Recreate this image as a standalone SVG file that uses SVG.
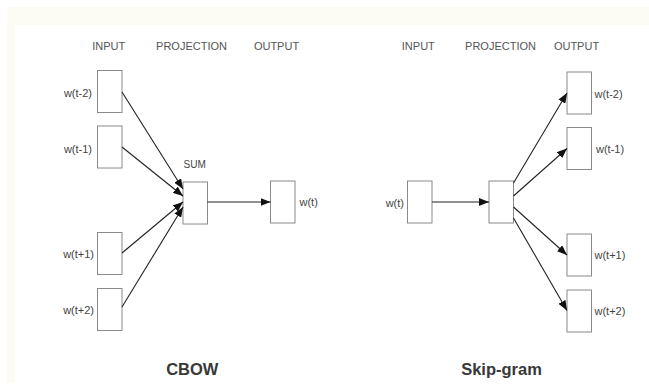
<svg xmlns="http://www.w3.org/2000/svg" width="649" height="390" viewBox="0 0 649 390">
  <style>
    .box { fill: #ffffff; stroke: #8a8a8a; stroke-width: 1; }
    .hdr { font-family: "Liberation Sans", Arial, sans-serif; font-size: 11px; fill: #555555; text-anchor: middle; }
    .lbl { font-family: "Liberation Sans", Arial, sans-serif; font-size: 11px; fill: #444444; }
    .ttl { font-family: "Liberation Sans", Arial, sans-serif; font-size: 16.5px; font-weight: bold; fill: #383838; text-anchor: middle; }
    .edge { stroke: #222222; stroke-width: 1.1; fill: none; marker-end: url(#arrow); }
  </style>
  <defs>
    <marker id="arrow" viewBox="0 0 10 8" refX="10" refY="4" markerWidth="10" markerHeight="8" markerUnits="userSpaceOnUse" orient="auto">
      <path d="M0,0 L10,4 L0,8 Z" fill="#111111"/>
    </marker>
  </defs>

  <rect x="0" y="0" width="649" height="390" fill="#ffffff"/>
  <rect x="7" y="7" width="642" height="376" fill="#fcfbf4"/>
  <rect x="15" y="25" width="634" height="365" fill="#ffffff"/>

  <!-- headers -->
  <g id="headers">
    <text class="hdr" x="108.7" y="50">INPUT</text>
    <text class="hdr" x="191.5" y="50">PROJECTION</text>
    <text class="hdr" x="276.5" y="50">OUTPUT</text>
    <text class="hdr" x="418.3" y="50">INPUT</text>
    <text class="hdr" x="500.5" y="50">PROJECTION</text>
    <text class="hdr" x="576.5" y="50">OUTPUT</text>
  </g>

  <!-- CBOW nodes -->
  <g id="cbow-in-t-2">
    <rect class="box" x="97.5" y="70.5" width="24.5" height="42"/>
    <text class="lbl" x="92" y="97" text-anchor="end">w(t-2)</text>
  </g>
  <g id="cbow-in-t-1">
    <rect class="box" x="97.5" y="126" width="24.5" height="42"/>
    <text class="lbl" x="92" y="152.5" text-anchor="end">w(t-1)</text>
  </g>
  <g id="cbow-in-t+1">
    <rect class="box" x="97.5" y="232.5" width="24.5" height="42"/>
    <text class="lbl" x="94" y="257.5" text-anchor="end">w(t+1)</text>
  </g>
  <g id="cbow-in-t+2">
    <rect class="box" x="97.5" y="288.5" width="24.5" height="42"/>
    <text class="lbl" x="94" y="313.5" text-anchor="end">w(t+2)</text>
  </g>
  <g id="cbow-sum">
    <rect class="box" x="183" y="182" width="24.5" height="42"/>
    <text class="lbl" x="194.7" y="168.3" text-anchor="middle" style="font-size:10px">SUM</text>
  </g>
  <g id="cbow-out">
    <rect class="box" x="270.5" y="181" width="24.5" height="42"/>
    <text class="lbl" x="299.5" y="205.5">w(t)</text>
  </g>

  <!-- Skip-gram nodes -->
  <g id="sg-in">
    <rect class="box" x="407.5" y="181" width="24.5" height="42"/>
    <text class="lbl" x="404" y="207" text-anchor="end">w(t)</text>
  </g>
  <g id="sg-proj">
    <rect class="box" x="489" y="181" width="24.5" height="42"/>
  </g>
  <g id="sg-out-t-2">
    <rect class="box" x="567" y="72" width="24.5" height="42"/>
    <text class="lbl" x="594.5" y="98">w(t-2)</text>
  </g>
  <g id="sg-out-t-1">
    <rect class="box" x="567" y="127.5" width="24.5" height="42"/>
    <text class="lbl" x="596" y="153">w(t-1)</text>
  </g>
  <g id="sg-out-t+1">
    <rect class="box" x="567" y="234" width="24.5" height="42"/>
    <text class="lbl" x="594.5" y="258.5">w(t+1)</text>
  </g>
  <g id="sg-out-t+2">
    <rect class="box" x="567" y="290" width="24.5" height="42"/>
    <text class="lbl" x="594.5" y="314.5">w(t+2)</text>
  </g>

  <!-- connectors -->
  <g id="connectors">
    <line class="edge" x1="122" y1="92" x2="183" y2="189"/>
    <line class="edge" x1="122" y1="147" x2="183" y2="196"/>
    <line class="edge" x1="122" y1="253" x2="183" y2="202"/>
    <line class="edge" x1="122" y1="307" x2="183" y2="207"/>
    <line class="edge" x1="207.5" y1="202" x2="270.5" y2="202"/>
    <line class="edge" x1="432" y1="202" x2="489" y2="202"/>
    <line class="edge" x1="513.5" y1="183" x2="567" y2="93"/>
    <line class="edge" x1="513.5" y1="196" x2="567" y2="148.5"/>
    <line class="edge" x1="513.5" y1="207" x2="567" y2="255"/>
    <line class="edge" x1="513.5" y1="218" x2="567" y2="310.5"/>
  </g>

  <!-- titles -->
  <g id="titles">
    <text class="ttl" x="192.3" y="375">CBOW</text>
    <text class="ttl" x="501.5" y="375">Skip-gram</text>
  </g>
</svg>
